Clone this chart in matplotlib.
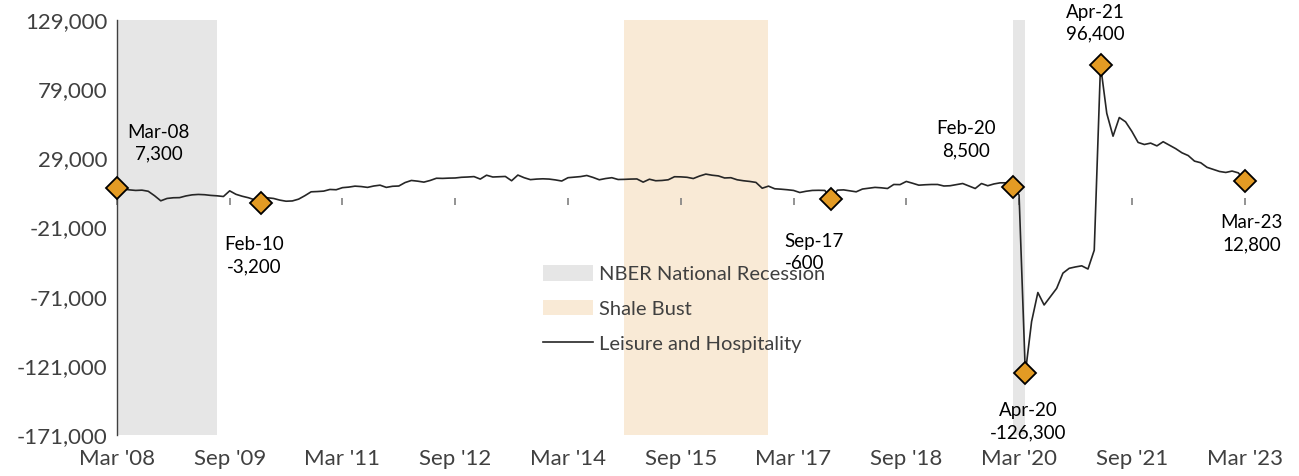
import matplotlib
matplotlib.use("Agg")
import matplotlib.pyplot as plt
from matplotlib.patches import Patch
from matplotlib.lines import Line2D

plt.rcParams['font.family'] = ['Lato', 'DejaVu Sans']

# monthly year-over-year change, Mar 2008 (month 0) .. Mar 2023 (month 180)
valores = [
    7300, 6800, 6200, 5800, 6000, 5200, 2000, -1700, 0, 500,
    600, 1800, 2600, 2900, 2700, 2200, 1900, 1400, 5500, 3000,
    1600, 500, -1000, -3200, 500, 0, -1200, -2000, -1800, -500,
    2000, 4800, 5000, 5300, 6500, 6300, 7800, 8200, 8900, 8600,
    8000, 9000, 9600, 8000, 8800, 9000, 11500, 13000, 12500, 11800,
    13000, 14600, 14500, 14700, 14800, 15300, 15500, 15800, 14000, 16800,
    15500, 15700, 15900, 12800, 16900, 15000, 13600, 14000, 14200, 14000,
    13400, 12600, 15000, 15400, 15800, 16600, 15200, 13500, 14400, 15000,
    13700, 13800, 14000, 14100, 11800, 13900, 12800, 13000, 13500, 15700,
    15600, 15300, 14400, 16200, 17600, 16800, 16300, 14800, 15000, 13500,
    12800, 12300, 11600, 7400, 8900, 7000, 6700, 6300, 5800, 4300,
    5200, 5800, 5900, 5800, -600, 6000, 6200, 5500, 4800, 6800,
    7400, 8000, 7700, 7200, 10100, 10000, 12300, 11000, 9600, 9900,
    10100, 10100, 9000, 9200, 10000, 10800, 9000, 7200, 10800, 9200,
    10500, 11300, 11300, 8500, 2500, -126300, -89000, -68000, -77000, -71000,
    -65000, -54000, -50500, -49500, -48700, -51000, -37400, 96400, 61500, 45000,
    58500, 55400, 48500, 40500, 39000, 40000, 38000, 41000, 38500, 36000,
    33000, 31000, 27000, 25800, 22500, 21000, 19500, 18800, 19800, 18500,
    12800,
]
meses = list(range(len(valores)))

# puntos destacados (mes, etiqueta)
destacados_mes = [0, 23, 114, 143, 145, 157, 180]
destacados_etiqueta = ['Mar-08', 'Feb-10', 'Sep-17', 'Feb-20', 'Apr-20', 'Apr-21', 'Mar-23']

# periodos sombreados (mes inicio, mes fin)
recesiones = [(-1, 16), (143, 145)]
shale_bust = (81, 104)

xticks_pos = list(range(0, 181, 18))
xticks_lab = ["Mar '08", "Sep '09", "Mar '11", "Sep '12", "Mar '14", "Sep '15",
              "Mar '17", "Sep '18", "Mar '20", "Sep '21", "Mar '23"]
yticks_pos = list(range(-171000, 129001, 50000))

fig = plt.figure(figsize=(12.99, 4.76), dpi=100)
ax = fig.add_axes([0.090, 0.0861, 0.8715, 0.8719])

for a, b in recesiones:
    ax.axvspan(a, b, color='#e6e6e6', lw=0, zorder=0)
ax.axvspan(shale_bust[0], shale_bust[1], color='#f9ead6', lw=0, zorder=0)

ax.plot(meses, valores, color='#262626', lw=1.2, zorder=3)

dx = [m for m in destacados_mes]
dy = [valores[m] for m in destacados_mes]
ax.plot(dx, dy, ls='none', marker='D', ms=11, mfc='#e39b24', mec='black', mew=1.3,
        zorder=4, clip_on=False)

# desplazamientos de las etiquetas (en puntos)
offsets = [(30, 32.5), (-5, -38), (-12, -38.5), (-34, 34), (2, -35), (-4, 30), (5, -38)]
alineacion = ['center', 'center', 'left', 'center', 'center', 'center', 'center']
for m, lab, (ox, oy), al in zip(destacados_mes, destacados_etiqueta, offsets, alineacion):
    txt = f"{lab}\n{valores[m]:,}"
    ax.annotate(txt, (m, valores[m]), xytext=(ox, oy), textcoords='offset points',
                ha='center', va='center', multialignment=al, fontsize=13.5,
                color='black', linespacing=1.35, annotation_clip=False, zorder=5)

ax.set_xlim(0, 180.7)
ax.set_ylim(-171000, 129000)
ax.set_yticks(yticks_pos)
ax.set_yticklabels([f"{v:,}" for v in yticks_pos])
ax.set_xticks(xticks_pos)
ax.set_xticklabels(xticks_lab)
ax.tick_params(axis='both', length=0, labelsize=16, colors='#404040')
ax.tick_params(axis='y', pad=7)
ax.tick_params(axis='x', pad=10)

for s in ['top', 'right', 'bottom']:
    ax.spines[s].set_visible(False)
ax.spines['left'].set_color('#404040')
ax.spines['left'].set_linewidth(1.0)

# eje en cero con marcas hacia abajo
cero = (0 - (-171000)) / 300000
sec = ax.secondary_xaxis(cero)
sec.set_xticks(xticks_pos)
sec.tick_params(axis='x', direction='out', length=5, width=1.2, color='#808080',
                labelbottom=False, labeltop=False, top=False, bottom=True)
sec.spines['top'].set_visible(False)
sec.spines['bottom'].set_color('#808080')
sec.spines['bottom'].set_linewidth(1.3)

handles = [Patch(facecolor='#e6e6e6', edgecolor='none'),
           Patch(facecolor='#f9ead6', edgecolor='none'),
           Line2D([0], [0], color='#262626', lw=1.2)]
ax.legend(handles, ['NBER National Recession', 'Shale Bust', 'Leisure and Hospitality'],
          loc='upper left', bbox_to_anchor=(0.376, 0.409), frameon=False, fontsize=14.5,
          handlelength=2.5, handleheight=0.8, handletextpad=0.3, labelspacing=0.85,
          borderpad=0, borderaxespad=0, labelcolor='#404040')

fig.text(0.47, 1.009, 'Year-over-Year Change in Leisure and Hospitality Employment',
         ha='center', va='baseline', fontsize=15, color='#262626')

fig.savefig('out.png', dpi=100)
